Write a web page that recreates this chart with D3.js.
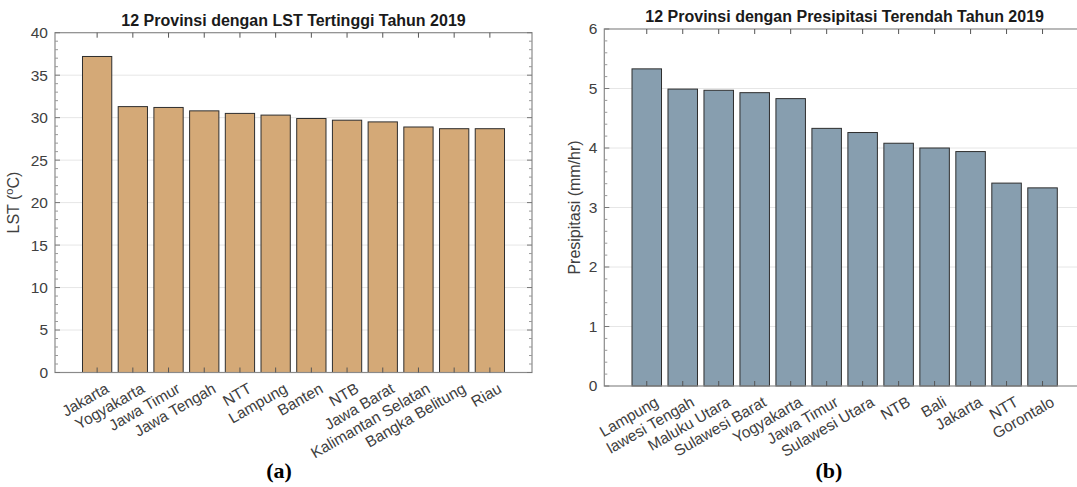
<!DOCTYPE html>
<html>
<head>
<meta charset="utf-8">
<script src="https://cdn.jsdelivr.net/npm/d3@7"></script>
<style>
  html, body { margin: 0; padding: 0; background: #fff; }
  svg { display: block; }
  text { font-family: "Liberation Sans", Arial, Helvetica, sans-serif; }
</style>
</head>
<body>
<svg id="chart" width="1077" height="487"></svg>
<script>
// Panel (a): land surface temperature, highest 12 provinces
const lstProvinces = ["Jakarta", "Yogyakarta", "Jawa Timur", "Jawa Tengah", "NTT", "Lampung",
  "Banten", "NTB", "Jawa Barat", "Kalimantan Selatan", "Bangka Belitung", "Riau"];
const lstValues = [37.2, 31.3, 31.2, 30.8, 30.5, 30.3, 29.9, 29.7, 29.5, 28.9, 28.7, 28.7];
const lstTicks = [0, 5, 10, 15, 20, 25, 30, 35, 40];

// Panel (b): precipitation, lowest 12 provinces
const rainProvinces = ["Lampung", "lawesi Tengah", "Maluku Utara", "Sulawesi Barat", "Yogyakarta",
  "Jawa Timur", "Sulawesi Utara", "NTB", "Bali", "Jakarta", "NTT", "Gorontalo"];
const rainValues = [5.33, 4.99, 4.97, 4.93, 4.83, 4.33, 4.26, 4.08, 4.00, 3.94, 3.41, 3.33];
const rainTicks = [0, 1, 2, 3, 4, 5, 6];

const svg = d3.select("#chart");

function drawPanel(cfg) {
  const { left, right, top, bottom, names, values, ticks, minorStep, fill,
          title, yLabel, tag } = cfg;
  const g = svg.append("g");
  const n = names.length;
  const pad = 1.18;
  const x = d3.scaleLinear().domain([-pad, n - 1 + pad]).range([left, right]);
  const y = d3.scaleLinear().domain([ticks[0], ticks[ticks.length - 1]]).range([bottom, top]);
  const step = x(1) - x(0);
  const barW = step * 0.82;

  // grid lines
  g.selectAll("line.grid").data(ticks.slice(1, -1)).join("line")
    .attr("x1", left).attr("x2", right)
    .attr("y1", d => y(d)).attr("y2", d => y(d))
    .attr("stroke", "#e6e6e6").attr("stroke-width", 1);

  // bars
  g.selectAll("rect.bar").data(values).join("rect")
    .attr("x", (d, i) => x(i) - barW / 2)
    .attr("y", d => y(d))
    .attr("width", barW)
    .attr("height", d => y(0) - y(d))
    .attr("fill", fill)
    .attr("stroke", "#2e2e2e").attr("stroke-width", 1);

  // frame
  const axisColor = "#8a8a8a";
  g.append("rect").attr("x", left).attr("y", top)
    .attr("width", right - left).attr("height", bottom - top)
    .attr("fill", "none").attr("stroke", axisColor).attr("stroke-width", 1.2);

  // x ticks (bottom and top, inward)
  const xt = d3.range(n);
  g.selectAll("line.xtb").data(xt).join("line")
    .attr("x1", d => x(d)).attr("x2", d => x(d))
    .attr("y1", bottom).attr("y2", bottom - 5)
    .attr("stroke", "#555").attr("stroke-width", 1);
  g.selectAll("line.xtt").data(xt).join("line")
    .attr("x1", d => x(d)).attr("x2", d => x(d))
    .attr("y1", top).attr("y2", top + 5)
    .attr("stroke", "#555").attr("stroke-width", 1);

  // y major and minor ticks, both sides
  const minors = d3.range(ticks[0], ticks[ticks.length - 1] + 1e-9, minorStep)
    .filter(v => !ticks.some(t => Math.abs(t - v) < 1e-6));
  [[left, 1], [right, -1]].forEach(([x0, dir]) => {
    g.selectAll(null).data(ticks).join("line")
      .attr("x1", x0).attr("x2", x0 + dir * 5)
      .attr("y1", d => y(d)).attr("y2", d => y(d))
      .attr("stroke", "#777").attr("stroke-width", 1);
    g.selectAll(null).data(minors).join("line")
      .attr("x1", x0).attr("x2", x0 + dir * 3)
      .attr("y1", d => y(d)).attr("y2", d => y(d))
      .attr("stroke", "#999").attr("stroke-width", 1);
  });

  // y tick labels
  g.selectAll("text.ytl").data(ticks).join("text")
    .attr("x", left - 7).attr("y", d => y(d))
    .attr("dy", "0.35em")
    .attr("text-anchor", "end")
    .attr("font-size", 15.5).attr("fill", "#404040")
    .text(d => d);

  // x tick labels, rotated
  g.selectAll("text.xtl").data(names).join("text")
    .attr("transform", (d, i) => `translate(${x(i) + 7},${bottom + 9}) rotate(-30)`)
    .attr("text-anchor", "end")
    .attr("dy", "0.75em")
    .attr("font-size", 15.5).attr("fill", "#404040")
    .text(d => d);

  // y axis label
  yLabel(g.append("text")
    .attr("transform", `translate(${cfg.yLabelX},${(top + bottom) / 2}) rotate(-90)`)
    .attr("text-anchor", "middle")
    .attr("font-size", 16).attr("fill", "#404040"));

  // title
  g.append("text")
    .attr("x", (left + right) / 2).attr("y", top - 7)
    .attr("text-anchor", "middle")
    .attr("font-size", 16).attr("font-weight", "bold").attr("fill", "#1a1a1a")
    .text(title);

  // panel tag
  g.append("text")
    .attr("x", cfg.tagX).attr("y", 478)
    .attr("text-anchor", "middle")
    .style("font-family", "'Liberation Serif', 'Times New Roman', serif")
    .attr("font-size", 22).attr("font-weight", "bold").attr("fill", "#000")
    .text(tag);
}

drawPanel({
  left: 55, right: 532, top: 32.7, bottom: 372.5,
  names: lstProvinces, values: lstValues, ticks: lstTicks, minorStep: 1,
  fill: "#d4a977",
  title: "12 Provinsi dengan LST Tertinggi Tahun 2019",
  yLabelX: 19,
  yLabel: t => {
    t.append("tspan").text("LST (");
    t.append("tspan").attr("baseline-shift", "super").attr("font-size", 11).text("o");
    t.append("tspan").text("C)");
  },
  tag: "(a)", tagX: 279
});

drawPanel({
  left: 604.3, right: 1085, top: 29, bottom: 386,
  names: rainProvinces, values: rainValues, ticks: rainTicks, minorStep: 0.2,
  fill: "#879eaf",
  title: "12 Provinsi dengan Presipitasi Terendah Tahun 2019",
  yLabelX: 580,
  yLabel: t => t.text("Presipitasi (mm/hr)"),
  tag: "(b)", tagX: 829
});
</script>
</body>
</html>
